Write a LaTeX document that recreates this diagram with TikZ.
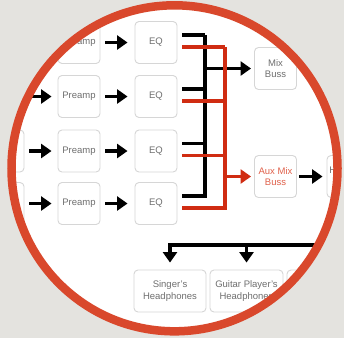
\documentclass[tikz,border=0pt]{standalone}
\usepackage{fontspec}
\setmainfont{Liberation Sans}
\usetikzlibrary{arrows.meta,calc}
\definecolor{bgc}{HTML}{E4E3DF}
\definecolor{ringc}{HTML}{D9482C}
\definecolor{busred}{HTML}{D02C12}
\definecolor{boxc}{HTML}{D6D6D6}
\definecolor{txtc}{HTML}{6E6E6E}
\definecolor{auxtxt}{HTML}{E0604A}
\tikzset{
  box/.style={draw=boxc, line width=0.9pt, rounded corners=4pt, fill=white,
    minimum width=42pt, minimum height=42pt, inner sep=0pt, align=center,
    text=txtc, font=\fontsize{9.5}{11.5}\selectfont},
  wbox/.style={box, minimum width=72pt},
  arr/.style={line width=3.6pt, -{Triangle[length=10.5pt,width=14pt]}},
  bus/.style={line width=3.6pt},
  redbus/.style={line width=3.3pt, draw=busred},
}
\begin{document}
\begin{tikzpicture}[x=1pt,y=-1pt]
\useasboundingbox (0,0) rectangle (344,338);
\fill[bgc] (0,0) rectangle (344,338);
\fill[white] (174.5,168.3) circle (163);
\begin{scope}
\clip (174.5,168.3) circle (163);
% input boxes
\node[box] (in1) at (3,42.5) {};
\node[box] (in2) at (3,96.5) {};
\node[box] (in3) at (3,151) {};
\node[box] (in4) at (3,203.5) {};
% preamps
\node[box] (pre1) at (79,42.5) {Preamp};
\node[box] (pre2) at (79,96.5) {Preamp};
\node[box] (pre3) at (79,151) {Preamp};
\node[box] (pre4) at (79,203.5) {Preamp};
% EQs
\node[box] (eq1) at (156,42.5) {EQ};
\node[box] (eq2) at (156,96.5) {EQ};
\node[box] (eq3) at (156,151) {EQ};
\node[box] (eq4) at (156,203.5) {EQ};
% busses
\node[box] (mix) at (275.5,68.5) {Mix\\Buss};
\node[box, text=auxtxt] (aux) at (275.5,176.5) {Aux Mix\\Buss};
\node[box, minimum width=54pt] (hamp) at (354,176.5) {Headphone\\Amp};
\node[box, minimum width=54pt] (main) at (354,68.5) {};
% headphones
\node[wbox] (sing) at (170,291) {Singer's\\Headphones};
\node[wbox, minimum width=73pt] (guit) at (246.5,291) {Guitar Player's\\Headphones};
\node[wbox] (drum) at (323,291) {};
% signal arrows
\foreach \i in {2,3,4}{
  \draw[arr, shorten <=5pt, shorten >=6pt] (in\i) -- (pre\i);
}
\foreach \i in {1,2,3,4}{
  \draw[arr, shorten <=5pt, shorten >=7pt] (pre\i) -- (eq\i);
}
% bus coordinates
\coordinate (bx) at (205,0);
\coordinate (rx) at (225,0);
\foreach \i in {1,2,3,4}{
  \coordinate (bl\i) at ($(eq\i.east)+(5,-7.5)$);
  \coordinate (rl\i) at ($(eq\i.east)+(5,4.5)$);
}
% black bus
\foreach \i in {1,2,3}{
  \draw[bus] (bl\i) -- (bl\i -| bx);
}
\draw[bus] (bl1 -| bx) -- (bl4 -| bx) -- (bl4);
\draw[arr, shorten >=3pt] (mix.west -| bx) -- (mix);
% red bus
\foreach \i in {1,2,3}{
  \draw[redbus] (rl\i) -- (rl\i -| rx);
}
\draw[redbus] (rl1 -| rx) -- (rl4 -| rx) -- (rl4);
\draw[arr, draw=busred, fill=busred, shorten >=3pt] (aux.west -| rx) -- (aux);
% outputs
\draw[arr, shorten <=2pt, shorten >=4pt] (aux) -- (hamp);
\draw[arr, shorten <=2pt, shorten >=4pt] (mix) -- (main);
% headphone distribution
\coordinate (hb) at (168.2,245);
\coordinate (he) at (380,245);
\draw[bus] (hb) -- (he);
\draw[bus] (hamp.south) -- (hamp.south |- he);
\draw[arr, shorten >=7pt] (sing.north |- hb) -- (sing);
\draw[arr, shorten >=7pt] (guit.north |- hb) -- (guit);
\draw[arr, shorten >=7pt] (drum.north |- hb) -- (drum);
\end{scope}
\draw[ringc, line width=8.5pt] (174.5,168.3) circle (163);
\end{tikzpicture}
\end{document}
